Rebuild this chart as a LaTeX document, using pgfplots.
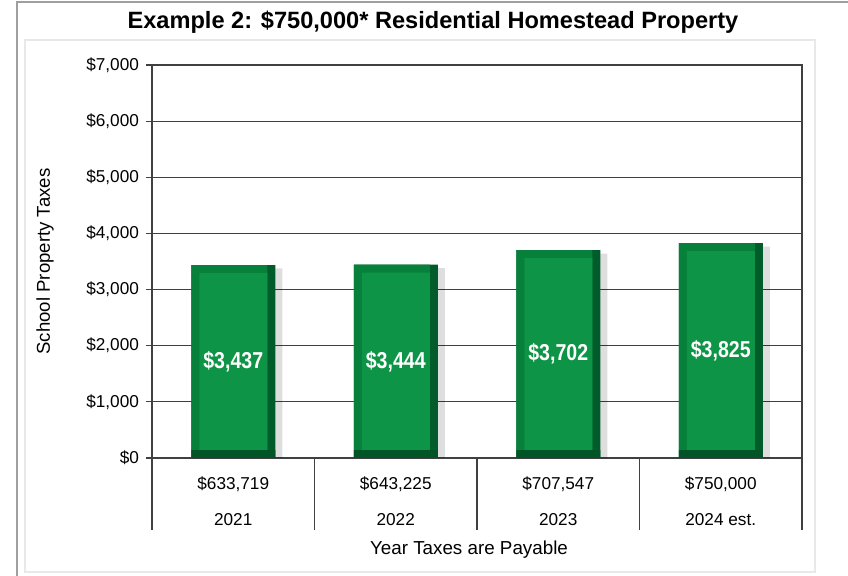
\documentclass[border=0pt]{standalone}
\usepackage{fontspec}
\setmainfont{Liberation Sans}
\newfontfamily\narrowsans{Liberation Sans}[FakeStretch=0.85]
\usepackage{pgfplots}
\usepackage{pgfplotstable}
\pgfplotsset{compat=1.18}

\definecolor{face}{RGB}{14,148,70}
\definecolor{bevel}{RGB}{6,128,58}
\definecolor{rside}{RGB}{0,92,42}
\definecolor{bside}{RGB}{0,84,38}
\definecolor{frame}{RGB}{64,64,64}

% year, school property taxes
\pgfplotstableread{
x v
0 3437
1 3444
2 3702
3 3825
}\taxdata

\begin{document}
\begin{tikzpicture}
\useasboundingbox (0,0) rectangle (424pt,288pt);
\draw[gray!75, line width=1pt] (8.5pt,0) -- (8.5pt,287.2pt) -- (424pt,287.2pt);
\draw[gray!18, line width=0.6pt] (12.5pt,2pt) rectangle (407.5pt,268pt);
\node[font=\bfseries\fontsize{11.8}{14}\selectfont] at (216.5pt,277pt)
  {Example 2: \$750,000* Residential Homestead Property};

\begin{axis}[at={(76pt,59pt)}, anchor=south west, scale only axis,
  width=325pt, height=196.5pt,
  xmin=-0.5, xmax=3.5, ymin=0, ymax=7000, clip=false,
  ytick={0,1000,...,7000}, ymajorgrids,
  grid style={frame, line width=0.6pt},
  axis line style={frame, line width=1.1pt},
  tick pos=left, tick align=outside, major tick length=3pt,
  ytick style={frame, line width=0.6pt},
  /pgf/number format/assume math mode=true,
  /pgf/number format/1000 sep={,},
  yticklabel={\$\pgfmathprintnumber{\tick}},
  yticklabel style={font=\fontsize{8.6}{10}\selectfont},
  xtick={0,1,2,3},
  xticklabels={{\$633,719\\[8pt]2021},{\$643,225\\[8pt]2022},{\$707,547\\[8pt]2023},{\$750,000\\[8pt]2024 est.}},
  xtick style={draw=none},
  xticklabel style={align=center, font=\fontsize{8.6}{10}\selectfont, yshift=-3pt},
  xlabel={Year Taxes are Payable},
  ylabel={School Property Taxes},
  every axis x label/.style={at={(axis description cs:0.4877,-0.2341)}, anchor=center, font=\fontsize{9.4}{11}\selectfont},
  every axis y label/.style={at={(axis description cs:-0.1646,0.5)}, rotate=90, anchor=center, font=\fontsize{9.3}{11}\selectfont},
]
% soft shadow
\addplot[ybar, bar width=42pt, bar shift=3.5pt, fill=black, fill opacity=0.13, draw=none]
  table[x=x, y expr=\thisrow{v}-60] {\taxdata};
% right bevel
\addplot[ybar, bar width=42pt, bar shift=0pt, fill=rside, draw=none]
  table[x=x, y=v] {\taxdata};
% left and top bevel
\addplot[ybar, bar width=38pt, bar shift=-2pt, fill=bevel, draw=none]
  table[x=x, y=v] {\taxdata};
% front face
\addplot[ybar, bar width=34pt, bar shift=0pt, fill=face, draw=none]
  table[x=x, y expr=\thisrow{v}-142] {\taxdata};
% bottom bevel
\addplot[ybar, bar width=42pt, bar shift=0pt, fill=bside, draw=none]
  table[x=x, y expr=142] {\taxdata};
% value labels
\addplot[draw=none, mark=none, point meta=explicit,
  nodes near coords={\$\pgfmathprintnumber{\pgfplotspointmeta}},
  nodes near coords style={font=\narrowsans\bfseries\fontsize{11.5}{12}\selectfont, text=white, anchor=center}]
  table[x=x, y expr=\thisrow{v}/2, meta=v] {\taxdata};
% category table separators
\pgfplotsinvokeforeach{-0.5,0.5,1.5,2.5,3.5}{
  \draw[frame, line width=0.6pt] (axis cs:#1,0) -- ([yshift=-36pt]axis cs:#1,0);
}
\end{axis}
\end{tikzpicture}
\end{document}
